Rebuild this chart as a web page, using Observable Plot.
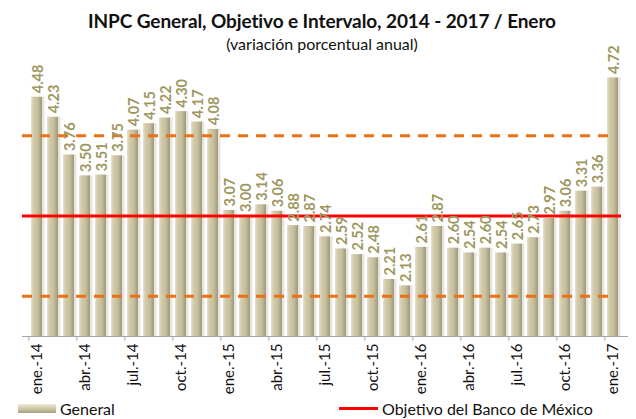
<!DOCTYPE html>
<html><head><meta charset="utf-8">
<script src="https://cdn.jsdelivr.net/npm/d3@7"></script>
<script src="https://cdn.jsdelivr.net/npm/@observablehq/plot@0.6"></script>
<style>
body{margin:0;background:#fff;font-family:Lato,"Open Sans",sans-serif;}
#wrap{position:relative;width:636px;height:419px;overflow:hidden;}
#title{position:absolute;top:9px;left:4px;width:636px;text-align:center;font-weight:bold;font-size:19px;color:#111;letter-spacing:-0.1px;}
#sub{position:absolute;top:34px;left:4px;width:636px;text-align:center;font-size:16px;color:#111;}
.leg{position:absolute;top:399px;font-size:16px;color:#111;display:flex;align-items:center;}
#chart{position:absolute;left:0;top:0;}
</style></head>
<body>
<div id="wrap">
  <div id="chart"></div>
  <div id="title">INPC General, Objetivo e Intervalo, 2014 - 2017 / Enero</div>
  <div id="sub">(variación porcentual anual)</div>
  <div class="leg" style="left:18px;"><span style="display:inline-block;width:38px;height:9px;background:linear-gradient(#eeead6,#c9c1a0 60%,#a8a07f);margin-right:4px;"></span>General</div>
  <div class="leg" style="left:339px;"><span style="display:inline-block;width:39px;height:3px;background:#ff0000;margin-right:4px;"></span>Objetivo del Banco de México</div>
</div>
<script>
const months = ["ene.-14","feb.-14","mar.-14","abr.-14","may.-14","jun.-14","jul.-14","ago.-14","sep.-14","oct.-14","nov.-14","dic.-14",
"ene.-15","feb.-15","mar.-15","abr.-15","may.-15","jun.-15","jul.-15","ago.-15","sep.-15","oct.-15","nov.-15","dic.-15",
"ene.-16","feb.-16","mar.-16","abr.-16","may.-16","jun.-16","jul.-16","ago.-16","sep.-16","oct.-16","nov.-16","dic.-16",
"ene.-17"];
const inpc = [4.48,4.23,3.76,3.50,3.51,3.75,4.07,4.15,4.22,4.30,4.17,4.08,
3.07,3.00,3.14,3.06,2.88,2.87,2.74,2.59,2.52,2.48,2.21,2.13,
2.61,2.87,2.60,2.54,2.60,2.54,2.65,2.73,2.97,3.06,3.31,3.36,
4.72];
const objetivo = 3;
const intervalo = [2, 4];
const tickLabels = months.filter((m,i)=> i%3===0);

const data = months.map((m,i)=>({month:m, value:inpc[i]}));
const W = 636, H = 419, mL = 22, mR = 8;
const step = (W - mL - mR) / months.length;

const chart = Plot.plot({
  width: W, height: H,
  marginLeft: mL, marginRight: mR, marginTop: 55, marginBottom: 83,
  style: {fontFamily: "Lato, 'Open Sans', sans-serif", background: "transparent"},
  x: {domain: months, paddingInner: 0.29, paddingOuter: 0.145, label: null},
  y: {domain: [1.5, 5], axis: null},
  marks: [
    Plot.barY(data, {x: "month", y1: 1.5, y2: "value", fill: "#e4e4e4", dx: 2.5}),
    Plot.barY(data, {x: "month", y1: 1.5, y2: "value", fill: "url(#barGrad)"}),
    Plot.ruleY(intervalo, {stroke: "#ec7016", strokeWidth: 3, strokeDasharray: "10,8", insetRight: 13}),
    Plot.ruleY([objetivo], {stroke: "#ff0000", strokeWidth: 3, insetRight: 7}),
    Plot.ruleY([1.5], {stroke: "#a6a6a6", strokeWidth: 1}),
    Plot.ruleX(tickLabels, {x: d=>d, y1: 1.5, y2: 1.44, dx: -step/2, stroke: "#a6a6a6"}),
    Plot.text(data, {x: "month", y: "value", text: d=>d.value.toFixed(2), rotate: -90, textAnchor: "start",
      dy: -4, dx: 1.5, fill: "#9e9760", fontWeight: "bold", fontSize: 14.5}),
    Plot.axisX({ticks: tickLabels, tickSize: 0, tickPadding: 7, tickRotate: -90, fontSize: 15, fill: "#111", label: null})
  ]
});

const defs = d3.create("svg:defs");
const g = defs.append("linearGradient").attr("id","barGrad").attr("x1","0").attr("x2","1").attr("y1","0").attr("y2","0");
[["0%","#e9e4cd"],["20%","#d4ccab"],["60%","#c7bf9c"],["100%","#a0977a"]].forEach(([o,c])=>g.append("stop").attr("offset",o).attr("stop-color",c));
chart.insertBefore(defs.node(), chart.firstChild);
document.getElementById("chart").appendChild(chart);
</script>
</body></html>
